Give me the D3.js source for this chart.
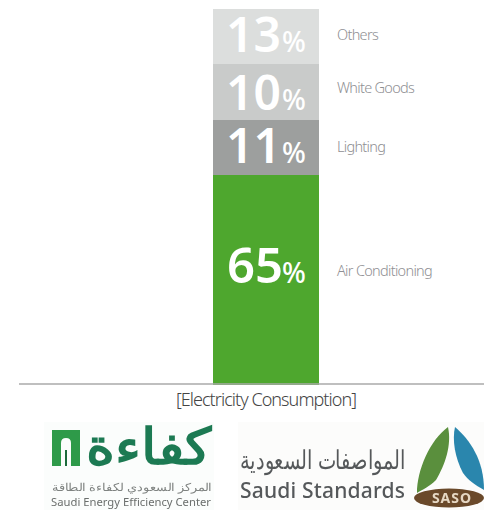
<!DOCTYPE html>
<html>
<head>
<meta charset="utf-8">
<script src="https://cdnjs.cloudflare.com/ajax/libs/d3/7.8.5/d3.min.js"></script>
<style>
html, body { margin: 0; padding: 0; background: #fff; }
svg { display: block; }
text { font-family: "Noto Sans", sans-serif; }
</style>
</head>
<body>
<svg id="vis" width="484" height="511"></svg>
<script>
var categories = ["Air Conditioning", "Lighting", "White Goods", "Others"];
var shares = [65, 11, 10, 13];
var colors = ["#4ea72e", "#9d9f9e", "#c9cbca", "#dcdedd"];
var caption = "[Electricity Consumption]";

var svg = d3.select("#vis");

// stack bottom to top
var stack = [];
var running = 0;
categories.forEach(function(c, i) {
  stack.push({name: c, value: shares[i], y0: running, y1: running + shares[i], color: colors[i]});
  running += shares[i];
});

// the picture doesnt draw the segments to proportion, so y is piecewise
var y = d3.scaleLinear()
    .domain([0].concat(stack.map(d => d.y1)))
    .range([385, 175, 120, 64, 9]);

var x = d3.scaleBand()
    .domain(["share"])
    .range([213, 319]);

// text isnt centred in the segments, offsets from the segment middle
var numberNudge = {65: 3, 11: 15.5, 10: 18, 13: 15.5};
var labelNudge = {65: -9, 11: -0.5, 10: -4, 13: -2};
var mid = d => (y(d.y0) + y(d.y1)) / 2;

var seg = svg.append("g").selectAll("g")
    .data(stack)
    .enter().append("g");

seg.append("rect")
    .attr("x", x("share"))
    .attr("width", x.bandwidth())
    .attr("y", d => y(d.y1))
    .attr("height", d => y(d.y0) - y(d.y1))
    .attr("fill", d => d.color);

seg.append("text")
    .attr("x", d => d.value == 65 ? 283 : 281)
    .attr("y", d => mid(d) + numberNudge[d.value])
    .attr("text-anchor", "end")
    .attr("fill", "#fff")
    .attr("font-weight", 600)
    .attr("font-size", d => d.value == 65 ? 49 : 48)
    .text(d => d.value);

seg.append("text")
    .attr("x", 282)
    .attr("y", d => mid(d) + numberNudge[d.value])
    .attr("font-family", "Roboto")
    .attr("fill", "#fff")
    .attr("font-weight", 500)
    .attr("font-size", 28)
    .text("%");

seg.append("text")
    .attr("x", 337)
    .attr("y", d => mid(d) + labelNudge[d.value])
    .attr("dy", "0.35em")
    .attr("fill", "#8f8f93")
    .attr("font-size", 14.5)
    .attr("font-weight", 300)
    .attr("letter-spacing", -0.7)
    .text(d => d.name);

// baseline
svg.append("line")
    .attr("x1", 19).attr("x2", 484)
    .attr("y1", 384).attr("y2", 384)
    .attr("stroke", "#aaaaaa")
    .attr("stroke-width", 1.5);
seg.filter(d => d.y0 == 0).raise();

svg.append("text")
    .attr("x", 266)
    .attr("y", 406)
    .attr("text-anchor", "middle")
    .attr("font-family", "Open Sans")
    .attr("font-size", 18)
    .attr("font-weight", 300)
    .attr("letter-spacing", -0.95)
    .attr("fill", "#444")
    .text(caption);

/*
 * LOGOS
 */
var defs = svg.append("defs");
defs.append("filter").attr("id", "soft")
  .append("feGaussianBlur").attr("stdDeviation", 0.6);

var logo1 = svg.append("g").attr("filter", "url(#soft)");
logo1.append("rect").attr("x", 44).attr("y", 422).attr("width", 170).attr("height", 88).attr("fill", "#fbfdfc");
logo1.append("rect").attr("x", 52).attr("y", 430).attr("width", 28).attr("height", 36).attr("fill", "#2f9a4a");
logo1.append("path").attr("d", "M61 466V443q0-5 5-5t5 5v23z").attr("fill", "#fbfdfc");
logo1.append("path").attr("d", "M65 466V450h2v16z").attr("fill", "#1c6b3a");
logo1.append("text")
    .attr("x", 212).attr("y", 464)
    .attr("text-anchor", "end")
    .attr("font-family", "DejaVu Sans")
    .attr("font-weight", "bold")
    .attr("font-size", 50)
    .attr("fill", "#1f7a52")
    .attr("textLength", 126)
    .attr("lengthAdjust", "spacingAndGlyphs")
    .text("كفاءة");
logo1.append("text")
    .attr("x", 212).attr("y", 491)
    .attr("text-anchor", "end")
    .attr("font-family", "DejaVu Sans")
    .attr("font-size", 11)
    .attr("fill", "#7f8381")
    .attr("textLength", 160)
    .attr("lengthAdjust", "spacingAndGlyphs")
    .text("المركز السعودي لكفاءة الطاقة");
logo1.append("text")
    .attr("x", 51).attr("y", 506)
    .attr("font-family", "Liberation Sans")
    .attr("font-size", 11)
    .attr("fill", "#6a6e6c")
    .attr("textLength", 160)
    .attr("lengthAdjust", "spacingAndGlyphs")
    .text("Saudi Energy Efficiency Center");

var logo2 = svg.append("g").attr("filter", "url(#soft)");
logo2.append("rect").attr("x", 238).attr("y", 422).attr("width", 246).attr("height", 88).attr("fill", "#fcfcfb");
logo2.append("text")
    .attr("x", 405).attr("y", 469)
    .attr("text-anchor", "end")
    .attr("font-family", "DejaVu Sans")
    .attr("font-size", 26)
    .attr("fill", "#55585a")
    .attr("textLength", 165)
    .attr("lengthAdjust", "spacingAndGlyphs")
    .text("المواصفات السعودية");
logo2.append("text")
    .attr("x", 240).attr("y", 498)
    .attr("font-family", "DejaVu Sans")
    .attr("font-size", 21)
    .attr("font-weight", 500)
    .attr("fill", "#55585a")
    .attr("textLength", 165)
    .attr("lengthAdjust", "spacing")
    .text("Saudi Standards");
logo2.append("path").attr("d", "M448 427C452 445 445 465 436 480C430 486 422 490 417 493C417 470 430 440 448 427Z").attr("fill", "#5a8f3c");
logo2.append("path").attr("d", "M455 427C470 440 484 460 484 490C475 485 468 480 463 473C455 458 452 440 455 427Z").attr("fill", "#2a86ad");
logo2.append("ellipse").attr("cx", 449).attr("cy", 498).attr("rx", 35).attr("ry", 9.5).attr("fill", "#6b4a2c");
logo2.append("text")
    .attr("x", 452).attr("y", 503)
    .attr("text-anchor", "middle")
    .attr("font-family", "Liberation Sans")
    .attr("font-weight", "bold")
    .attr("font-size", 14)
    .attr("letter-spacing", 1)
    .attr("fill", "#e6d8c4")
    .text("SASO");
</script>
</body>
</html>
